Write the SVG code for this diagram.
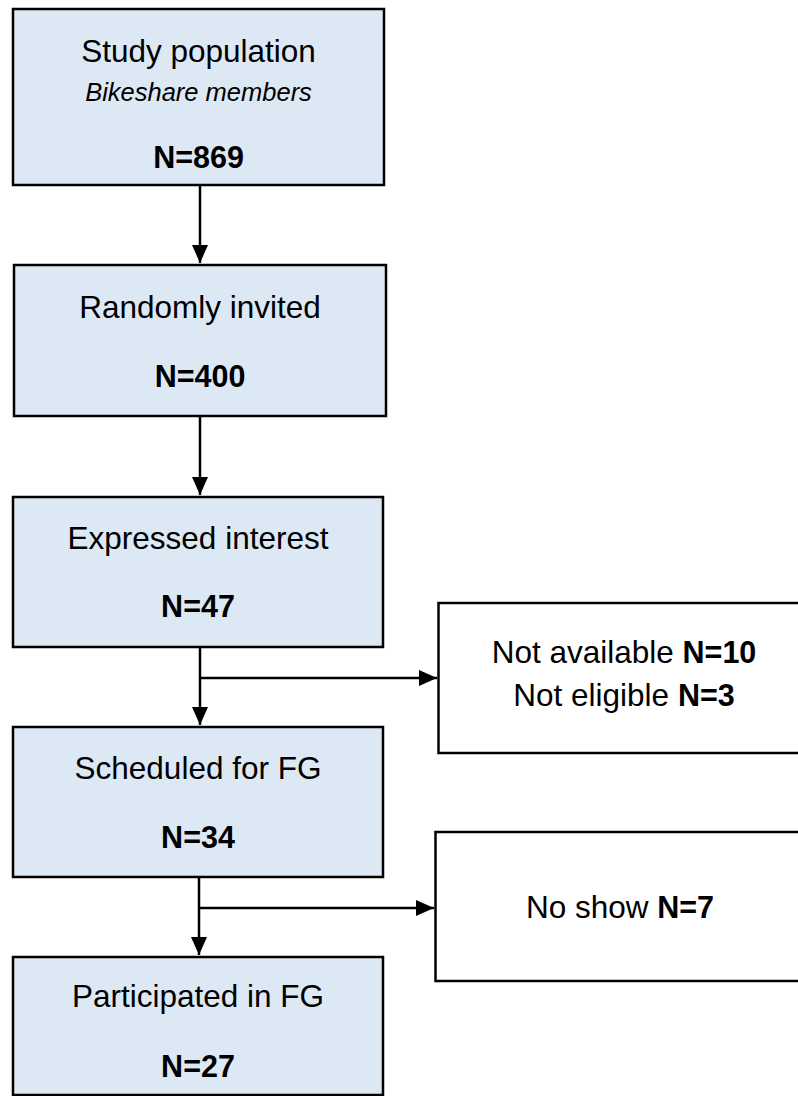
<svg xmlns="http://www.w3.org/2000/svg" width="798" height="1096" viewBox="0 0 798 1096">
<style>
  .main { fill: #DDE8F5; stroke: #000; stroke-width: 2.5; }
  .side { fill: #FFFFFF; stroke: #000; stroke-width: 2.5; }
  text { font-family: "Liberation Sans", Arial, sans-serif; font-size: 31.5px; fill: #000; text-anchor: middle; }
  .it { font-style: italic; font-size: 25.5px; }
  .b { font-weight: bold; font-size: 30.5px; }
  .conn line { stroke: #000; stroke-width: 2.5; }
</style>
<defs>
  <marker id="ah2" markerWidth="18" markerHeight="16" refX="18" refY="8" orient="auto" markerUnits="userSpaceOnUse" viewBox="0 0 18 16">
    <path d="M0,0 L18,8 L0,16 z" fill="#000"/>
  </marker>
</defs>
<rect width="798" height="1096" fill="#FFFFFF"/>
<g id="n1">
  <rect class="main" x="13" y="9" width="371" height="176"/>
  <text x="198.5" y="62">Study population</text>
  <text class="it" x="198.5" y="101">Bikeshare members</text>
  <text class="b" x="198.5" y="168">N=869</text>
</g>
<g id="n2">
  <rect class="main" x="14" y="265" width="372" height="151"/>
  <text x="200" y="318">Randomly invited</text>
  <text class="b" x="200" y="387">N=400</text>
</g>
<g id="n3">
  <rect class="main" x="13" y="497" width="370" height="150"/>
  <text x="198" y="549">Expressed interest</text>
  <text class="b" x="198" y="617">N=47</text>
</g>
<g id="n4">
  <rect class="main" x="13" y="727" width="370" height="150"/>
  <text x="198" y="779">Scheduled for FG</text>
  <text class="b" x="198" y="848">N=34</text>
</g>
<g id="n5">
  <rect class="main" x="13" y="957" width="370" height="138"/>
  <text x="198" y="1007">Participated in FG</text>
  <text class="b" x="198" y="1077">N=27</text>
</g>
<g id="s1">
  <rect class="side" x="438.5" y="603" width="380" height="150"/>
  <text x="624" y="663">Not available <tspan class="b">N=10</tspan></text>
  <text x="624" y="706">Not eligible <tspan class="b">N=3</tspan></text>
</g>
<g id="s2">
  <rect class="side" x="435.5" y="832" width="380" height="149"/>
  <text x="620" y="918">No show <tspan class="b">N=7</tspan></text>
</g>
<g id="connectors" class="conn">
  <line x1="200" y1="186" x2="200" y2="263" marker-end="url(#ah2)"/>
  <line x1="200" y1="417" x2="200" y2="495" marker-end="url(#ah2)"/>
  <line x1="200" y1="648" x2="200" y2="725" marker-end="url(#ah2)"/>
  <line x1="200" y1="678" x2="437" y2="678" marker-end="url(#ah2)"/>
  <line x1="199" y1="878" x2="199" y2="955" marker-end="url(#ah2)"/>
  <line x1="199" y1="908" x2="434" y2="908" marker-end="url(#ah2)"/>
</g>
</svg>
